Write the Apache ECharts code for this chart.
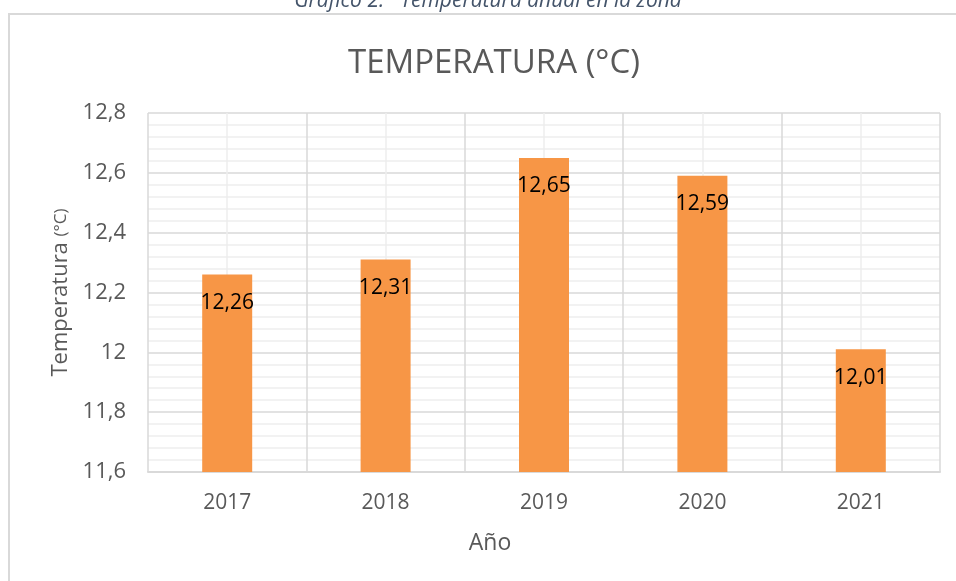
<!DOCTYPE html>
<html>
<head>
<meta charset="utf-8">
<script src="https://cdn.jsdelivr.net/npm/echarts@6/dist/echarts.min.js"></script>
<style>
  html, body { margin: 0; padding: 0; background: #fff; }
  #chart { width: 956px; height: 581px; }
</style>
</head>
<body>
<div id="chart"></div>
<script>
// datos del gráfico
const years = ['2017', '2018', '2019', '2020', '2021']
const temps = [12.26, 12.31, 12.65, 12.59, 12.01]
const yMin = 11.6
const yMax = 12.8
const yStep = 0.2

const comma = v => String(v).replace('.', ',')

const chart = echarts.init(document.getElementById('chart'))
const option = {
  animation: false,
  textStyle: { fontFamily: 'Open Sans' },
  title: {
    text: 'TEMPERATURA (°C)',
    left: 489,
    textAlign: 'center',
    top: 42,
    textStyle: { fontSize: 33, fontWeight: 'normal', color: '#595959', fontFamily: 'Open Sans' }
  },
  graphic: [
    {
      // marco del gráfico
      type: 'rect',
      z: -10,
      shape: { x: 9, y: 14, width: 1000, height: 620 },
      style: { fill: 'none', stroke: '#d9d9d9', lineWidth: 2 }
    },
    {
      // leyenda del documento (cortada arriba)
      type: 'text',
      x: 488,
      y: -9,
      style: {
        text: 'Gráfico 2.   Temperatura anual en la zona',
        fontSize: 21,
        fontStyle: 'italic',
        fontFamily: 'Open Sans',
        fill: '#44546a',
        align: 'center',
        verticalAlign: 'top'
      }
    }
  ],
  grid: { left: 148, right: 16, top: 113, bottom: 109 },
  xAxis: [
    {
      type: 'category',
      data: years,
      name: 'Año',
      nameLocation: 'middle',
      nameGap: 60,
      nameTextStyle: { fontSize: 23, color: '#595959', padding: [0, 108, 0, 0] },
      axisLine: { lineStyle: { color: '#d9d9d9', width: 2 } },
      axisTick: { show: false },
      axisLabel: { fontSize: 21, color: '#595959', margin: 21 },
      splitLine: { show: false }
    },
    {
      // eje auxiliar solo para las líneas verticales
      type: 'value',
      min: 0,
      max: 5,
      interval: 1,
      position: 'bottom',
      show: true,
      axisLine: { show: false },
      axisTick: { show: false },
      axisLabel: { show: false },
      splitLine: { show: true, lineStyle: { color: '#d9d9d9', width: 1.5 } },
      minorTick: { show: false, splitNumber: 2 },
      minorSplitLine: { show: true, lineStyle: { color: '#eeeeee', width: 1.5 } }
    }
  ],
  yAxis: {
    type: 'value',
    min: yMin,
    max: yMax,
    interval: yStep,
    name: '{a|Temperatura }{b|(°C)}',
    nameLocation: 'middle',
    nameGap: 75,
    nameTextStyle: {
      rich: {
        a: { fontSize: 22, color: '#595959', fontFamily: 'Open Sans' },
        b: { fontSize: 17, color: '#595959', fontFamily: 'Open Sans' }
      }
    },
    axisLine: { show: false },
    axisTick: { show: false },
    axisLabel: {
      fontSize: 22,
      color: '#595959',
      margin: 22,
      formatter: v => comma(Math.round(v * 10) / 10)
    },
    splitLine: { lineStyle: { color: '#d9d9d9', width: 1.5 } },
    minorTick: { show: false, splitNumber: 5 },
    minorSplitLine: { show: true, lineStyle: { color: '#eeeeee', width: 1.5 } }
  },
  series: [
    {
      type: 'bar',
      xAxisIndex: 0,
      data: temps,
      barWidth: 50,
      itemStyle: { color: '#f79646' },
      label: {
        show: true,
        position: 'insideTop',
        distance: 18,
        fontSize: 21,
        color: '#000',
        formatter: p => comma(p.value.toFixed(2))
      }
    }
  ]
}
chart.setOption(option)
</script>
</body>
</html>
